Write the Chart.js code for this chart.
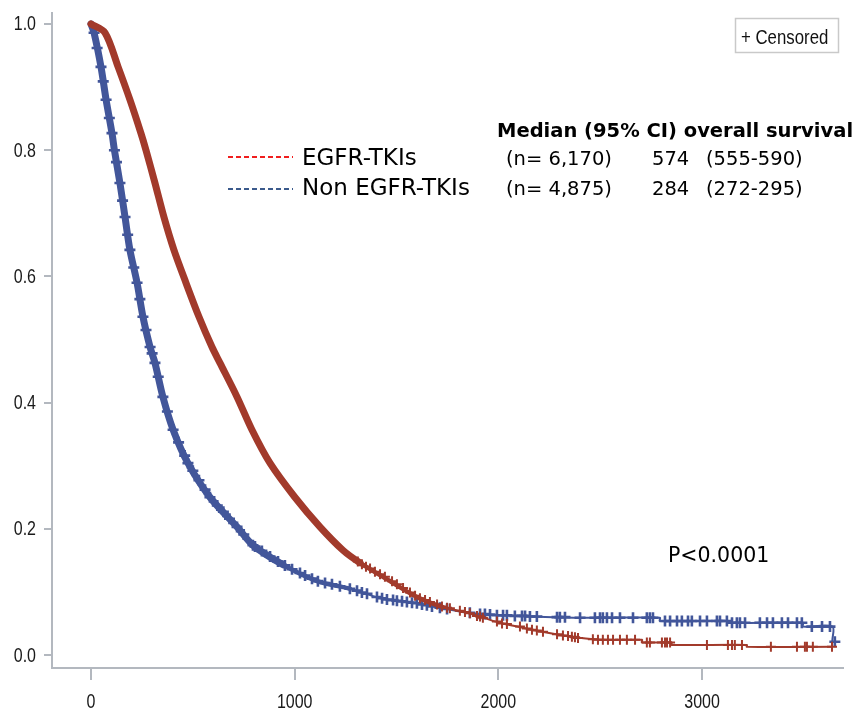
<!DOCTYPE html>
<html>
<head>
<meta charset="utf-8">
<script src="https://cdn.jsdelivr.net/npm/chart.js@4/dist/chart.umd.min.js"></script>
<style>
  html, body { margin: 0; padding: 0; background: #fff; }
  #wrap { width: 866px; height: 721px; }
</style>
</head>
<body>
<div id="wrap"><canvas id="km" width="866" height="721"></canvas></div>
<script>
// ---- Kaplan-Meier overall survival, days since start ----
const seriesNames = ['EGFR-TKIs', 'Non EGFR-TKIs'];
const sampleSizes = ['6,170', '4,875'];
const medianDays = [574, 284];
const ciLow = [555, 272];
const ciHigh = [590, 295];
const pValueText = 'P<0.0001';
const tableHeader = 'Median (95% CI) overall survival';
const censorLabel = '+ Censored';

const xTicks = [0, 1000, 2000, 3000];
const yTicks = [0.0, 0.2, 0.4, 0.6, 0.8, 1.0];

// EGFR-TKIs survival curve
const egfrDays = [0, 69, 133, 191, 245, 270, 314, 358, 407, 466, 530, 594, 633, 717, 790, 879, 1001, 1124, 1237, 1321,
  1458, 1600, 1728, 1846, 2008, 2170, 2337, 2499, 2705, 2705, 2850, 2850, 3220, 3220, 3638];
const egfrSurv = [1.0, 0.986, 0.932, 0.880, 0.827, 0.800, 0.748, 0.694, 0.642, 0.590, 0.536, 0.488, 0.463, 0.409, 0.357, 0.304, 0.250, 0.203, 0.166, 0.146,
  0.119, 0.092, 0.076, 0.067, 0.051, 0.040, 0.030, 0.024, 0.024, 0.020, 0.020, 0.016, 0.016, 0.013, 0.013];

// Non EGFR-TKIs survival curve
const nonEgfrDays = [0, 15, 49, 74, 103, 115, 142, 167, 191, 226, 255, 290, 314, 353, 403, 476, 584, 717, 795, 943,
  1110, 1271, 1434, 1600, 1846, 2008, 2268, 2499, 2793, 2793, 3137, 3137, 3495, 3495, 3640, 3640, 3652];
const nonEgfrSurv = [1.0, 0.986, 0.932, 0.880, 0.827, 0.800, 0.748, 0.694, 0.642, 0.590, 0.536, 0.488, 0.463, 0.409, 0.357, 0.304, 0.250, 0.203, 0.174, 0.143,
  0.117, 0.105, 0.089, 0.082, 0.067, 0.063, 0.060, 0.059, 0.059, 0.054, 0.054, 0.051, 0.051, 0.045, 0.045, 0.021, 0.021];

// Censored observations (EGFR-TKIs)
const egfrCensorDays = [1310, 1330, 1350, 1370, 1394, 1419, 1443, 1478, 1502, 1532,
  1566, 1591, 1615, 1640, 1664, 1699, 1723, 1748, 1762, 1811,
  1836, 1860, 1895, 1910, 1924, 1993, 2018, 2042, 2106, 2140,
  2165, 2189, 2219, 2288, 2317, 2342, 2361, 2376, 2391, 2464,
  2489, 2513, 2538, 2563, 2597, 2631, 2671, 2729, 2744, 2803,
  2818, 2828, 2843, 3024, 3127, 3147, 3161, 3196, 3338, 3466,
  3505, 3515, 3544, 3638];
const egfrCensorSurv = [0.148, 0.144, 0.140, 0.137, 0.132, 0.128, 0.124, 0.117, 0.112, 0.106,
  0.099, 0.094, 0.090, 0.087, 0.084, 0.080, 0.077, 0.075, 0.074, 0.070,
  0.068, 0.066, 0.062, 0.061, 0.059, 0.053, 0.050, 0.049, 0.045, 0.042,
  0.040, 0.039, 0.037, 0.033, 0.031, 0.030, 0.029, 0.028, 0.027, 0.025,
  0.024, 0.024, 0.024, 0.024, 0.024, 0.024, 0.024, 0.020, 0.020, 0.020,
  0.020, 0.020, 0.020, 0.016, 0.016, 0.016, 0.016, 0.016, 0.013, 0.013,
  0.013, 0.013, 0.013, 0.013];

// Censored observations (Non EGFR-TKIs)
const nonEgfrCensorDays = [15, 30, 49, 60, 74, 90, 103, 115, 125, 142,
  155, 167, 180, 191, 210, 226, 240, 255, 270, 290,
  300, 314, 330, 353, 375, 403, 430, 460, 476, 500,
  530, 560, 584, 620, 650, 680, 717, 750, 795,
  805, 839, 879, 918, 952, 987, 1026, 1051, 1085, 1114,
  1149, 1183, 1222, 1271, 1306, 1330, 1355, 1404, 1429, 1453,
  1483, 1502, 1527, 1551, 1576, 1600, 1625, 1649, 1674, 1713,
  1748, 1860, 1910, 1934, 1959, 1993,
  2023, 2042, 2081, 2116, 2131, 2155, 2189, 2288, 2302, 2327,
  2401, 2474, 2499, 2513, 2533, 2558, 2597, 2661, 2729, 2744,
  2759, 2818, 2843, 2877, 2901, 2931, 2950, 2990, 3024, 3073,
  3088, 3122, 3147, 3171, 3186, 3211, 3284, 3319, 3348, 3392,
  3422, 3466, 3490, 3539, 3589, 3628, 3652];
const nonEgfrCensorSurv = [0.986, 0.962, 0.932, 0.909, 0.880, 0.851, 0.827, 0.800, 0.781, 0.748,
  0.720, 0.694, 0.666, 0.642, 0.614, 0.590, 0.564, 0.536, 0.515, 0.488,
  0.478, 0.463, 0.441, 0.409, 0.386, 0.357, 0.337, 0.316, 0.304, 0.292,
  0.277, 0.262, 0.250, 0.237, 0.227, 0.216, 0.203, 0.191, 0.174,
  0.172, 0.165, 0.156, 0.148, 0.142, 0.136, 0.130, 0.126, 0.121, 0.117,
  0.114, 0.112, 0.109, 0.105, 0.102, 0.099, 0.097, 0.092, 0.090, 0.088,
  0.087, 0.086, 0.085, 0.084, 0.083, 0.082, 0.080, 0.079, 0.077, 0.075,
  0.073, 0.067, 0.065, 0.065, 0.064, 0.063,
  0.063, 0.063, 0.062, 0.062, 0.062, 0.061, 0.061, 0.060, 0.060, 0.060,
  0.059, 0.059, 0.059, 0.059, 0.059, 0.059, 0.059, 0.059, 0.059, 0.059,
  0.059, 0.054, 0.054, 0.054, 0.054, 0.054, 0.054, 0.054, 0.054, 0.054,
  0.054, 0.054, 0.051, 0.051, 0.051, 0.051, 0.051, 0.051, 0.051, 0.051,
  0.051, 0.051, 0.051, 0.045, 0.045, 0.045, 0.021];

// ---- styling ----
const curveColors = ['#A23A2B', '#42569A'];
const legendColors = ['#F01E1E', '#3B5A8C'];
const axisGray = '#b3b8bf';
const labelFont = "'Liberation Sans', Arial, sans-serif";
const textFont = "'DejaVu Sans', 'Liberation Sans', sans-serif";
const narrowScale = 0.8;
// heavy overlap of censor marks makes the early curve read as a thick band:
// [until day, line width] per series
const bandSteps = [[[1300, 7], [1650, 4.5]], [[800, 7], [1150, 4.5]]];

const toPoints = (xs, ys) => xs.map((x, i) => ({ x, y: ys[i] }));

function bandWidth(i, day) {
  for (const [until, w] of bandSteps[i]) if (day < until) return w;
  return 2;
}

function curveDataset(i, days, surv) {
  return {
    label: seriesNames[i],
    data: toPoints(days, surv),
    showLine: true,
    borderColor: curveColors[i],
    backgroundColor: curveColors[i],
    borderWidth: 2,
    pointRadius: 0,
    tension: 0.3,
    borderJoinStyle: 'round',
    borderCapStyle: 'round',
    segment: { borderWidth: ctx => bandWidth(i, ctx.p0.parsed.x) }
  };
}

function censorDataset(i, days, surv) {
  return {
    label: seriesNames[i] + ' censored',
    data: toPoints(days, surv),
    showLine: false,
    pointStyle: 'cross',
    pointRadius: i === 1 ? 5.5 : 5,
    pointBorderWidth: i === 1 ? 2.6 : 2,
    borderColor: curveColors[i],
    backgroundColor: curveColors[i]
  };
}

// narrow (condensed) text, as used for the axis labels and the censor key
function narrowText(ctx, text, x, y, align) {
  ctx.save();
  ctx.translate(x, y);
  ctx.scale(narrowScale, 1);
  ctx.textAlign = align;
  ctx.fillText(text, 0, 0);
  ctx.restore();
}

const overlay = {
  id: 'kmOverlay',
  afterDraw(chart) {
    const ctx = chart.ctx;
    const xs = chart.scales.x, ys = chart.scales.y;
    ctx.save();

    // axis tick labels
    ctx.fillStyle = '#1a1a1a';
    ctx.font = '20px ' + labelFont;
    ctx.textBaseline = 'alphabetic';
    xTicks.forEach(v => narrowText(ctx, String(v), xs.getPixelForValue(v), 708, 'center'));
    ctx.textBaseline = 'middle';
    yTicks.forEach(v => narrowText(ctx, v.toFixed(1), 36, ys.getPixelForValue(v) + 1, 'right'));

    ctx.textBaseline = 'alphabetic';
    ctx.textAlign = 'left';
    ctx.fillStyle = '#000';

    // table header
    ctx.font = 'bold 19.5px ' + textFont;
    ctx.fillText(tableHeader, 497, 137);

    const rowBase = [165, 195];
    const lineY = [157, 189];
    seriesNames.forEach((name, i) => {
      ctx.strokeStyle = legendColors[i];
      ctx.lineWidth = 2;
      ctx.setLineDash([5, 3]);
      ctx.beginPath();
      ctx.moveTo(228, lineY[i]);
      ctx.lineTo(293, lineY[i]);
      ctx.stroke();
      ctx.setLineDash([]);

      ctx.fillStyle = '#000';
      ctx.font = '23px ' + textFont;
      ctx.fillText(name, 302, rowBase[i]);
      ctx.font = '19.5px ' + textFont;
      ctx.fillText('(n= ' + sampleSizes[i] + ')', 506, rowBase[i]);
      ctx.fillText(String(medianDays[i]), 652, rowBase[i]);
      ctx.fillText('(' + ciLow[i] + '-' + ciHigh[i] + ')', 706, rowBase[i]);
    });

    // p-value
    ctx.font = '20.5px ' + textFont;
    ctx.fillText(pValueText, 668, 562);

    // censor key box
    ctx.strokeStyle = '#c9c9c9';
    ctx.lineWidth = 1.5;
    ctx.strokeRect(735.5, 18.5, 103, 34);
    ctx.fillStyle = '#111';
    ctx.font = '21px ' + labelFont;
    narrowText(ctx, censorLabel, 741, 44, 'left');
    ctx.restore();
  }
};

new Chart(document.getElementById('km'), {
  type: 'scatter',
  data: {
    datasets: [
      curveDataset(0, egfrDays, egfrSurv),
      censorDataset(0, egfrCensorDays, egfrCensorSurv),
      curveDataset(1, nonEgfrDays, nonEgfrSurv),
      censorDataset(1, nonEgfrCensorDays, nonEgfrCensorSurv)
    ]
  },
  options: {
    responsive: false,
    animation: false,
    devicePixelRatio: 1,
    layout: { padding: { top: 13, right: 23, left: 0, bottom: 0 } },
    plugins: { legend: { display: false }, tooltip: { enabled: false } },
    scales: {
      x: {
        type: 'linear',
        min: -191.5,
        max: 3692,
        afterBuildTicks: s => { s.ticks = xTicks.map(v => ({ value: v })); },
        afterFit: s => { s.height = 53; },
        grid: { drawOnChartArea: false, drawTicks: true, tickLength: 12, color: axisGray, lineWidth: 2 },
        border: { display: true, color: axisGray, width: 2 },
        ticks: { display: false }
      },
      y: {
        type: 'linear',
        min: -0.0206,
        max: 1.0174,
        afterBuildTicks: s => { s.ticks = yTicks.map(v => ({ value: v })); },
        afterFit: s => { s.width = 52; },
        grid: { drawOnChartArea: false, drawTicks: true, tickLength: 8, color: axisGray, lineWidth: 2 },
        border: { display: true, color: axisGray, width: 2 },
        ticks: { display: false }
      }
    }
  },
  plugins: [overlay]
});
</script>
</body>
</html>
